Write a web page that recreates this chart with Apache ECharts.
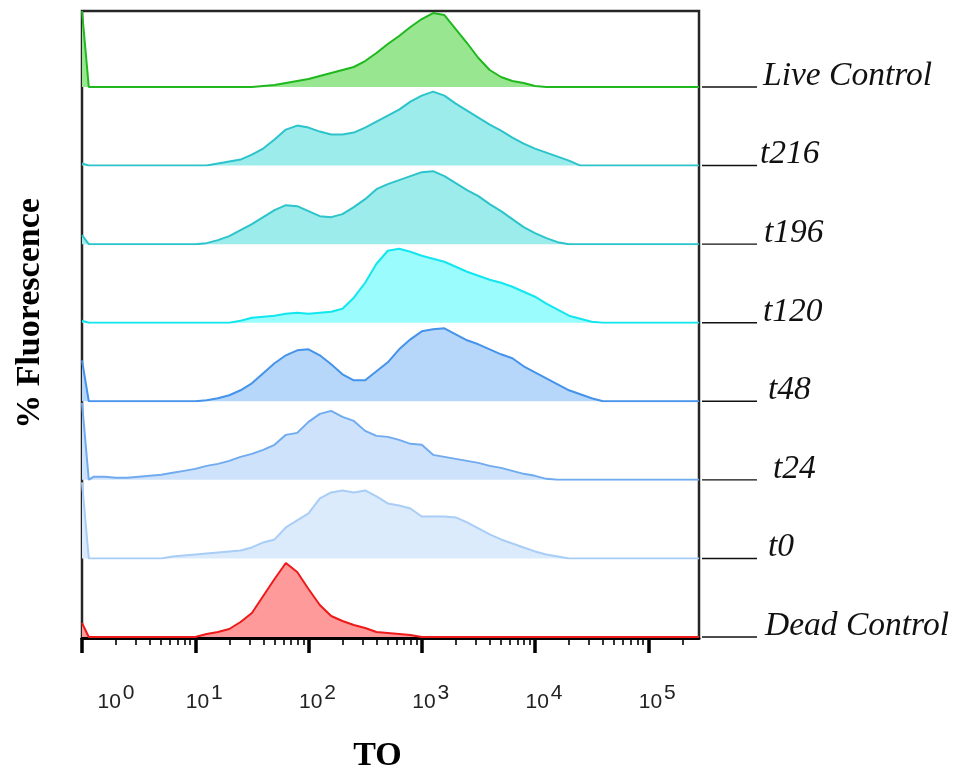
<!DOCTYPE html>
<html><head><meta charset="utf-8">
<script src="https://cdn.jsdelivr.net/npm/echarts@6/dist/echarts.min.js"></script>
<style>html,body{margin:0;padding:0;background:#fff}#c{width:959px;height:769px}</style>
</head><body><div id="c"></div>
<script>
// log10(TO intensity) of each histogram bin
const logChannel = [0, 0.06, 0.1, 0.2, 0.3, 0.4, 0.5, 0.6, 0.7, 0.8, 0.9, 1.0, 1.1, 1.2, 1.3, 1.4, 1.5, 1.6, 1.7, 1.8, 1.9, 2.0, 2.1, 2.2, 2.3, 2.4, 2.5, 2.6, 2.7, 2.8, 2.9, 3.0, 3.1, 3.2, 3.3, 3.4, 3.5, 3.6, 3.7, 3.8, 3.9, 4.0, 4.1, 4.2, 4.3, 4.4, 4.5, 4.6, 4.7, 4.8, 4.9, 5.0, 5.1, 5.2, 5.3, 5.4, 5.448];

const sampleNames = ['Live Control', 't216', 't196', 't120', 't48', 't24', 't0', 'Dead Control'];

const liveControl = [76, 0, 0,0,0,0,0,0,0,0,0,0,0,0,0,0,0, 1,2,4,6,8,11,14,17,20,26,34,43,51,60,68,74,72,58,44,29,17,10,6,4,1, 0,0,0,0,0,0,0,0,0,0,0,0,0,0,0];
const t216 = [2, 0, 0,0,0,0,0,0,0,0,0,0,0, 2,4,6,11,17,26,36,40,38,34,31,31,33,38,44,50,56,64,70,74,70,62,55,48,41,35,28,22,17,13,9,5,0, 0,0,0,0,0,0,0,0,0,0,0];
const t196 = [9, 0, 0,0,0,0,0,0,0,0,0,0, 1,4,8,14,20,27,34,39,38,33,28,27,30,37,45,55,60,64,68,72,73,68,61,54,48,40,33,25,17,11,6,2,0, 0,0,0,0,0,0,0,0,0,0,0,0];
const t120 = [2, 0, 0,0,0,0,0,0,0,0,0,0,0,0,0, 2,5,6,7,9,10,9,10,11,14,25,40,59,72,74,71,67,64,61,56,51,47,43,40,36,31,26,19,13,7,4,1,0, 0,0,0,0,0,0,0,0,0];
const t48 = [41, 0, 0,0,0,0,0,0,0,0,0,0, 1,3,6,11,18,28,38,46,51,52,46,37,27,21,21,30,39,52,62,70,72,73,67,61,57,52,47,43,35,29,23,17,11,7,3,0, 0,0,0,0,0,0,0,0,0];
const t24 = [77, 0, 3,3,2,2,3,4,5,7,9,11,14,16,19,23,26,30,35,45,47,58,66,69,63,59,49,44,43,40,36,35,25,23,21,19,17,14,12,9,6,4,1,0, 0,0,0,0,0,0,0,0,0,0,0,0,0];
const t0 = [76, 0, 0,0,0,0,0,0,0, 2,3,4,5,6,7,8,11,16,19,31,38,45,60,66,68,66,68,62,55,53,50,42,42,42,41,36,30,24,19,15,11,7,4,2,0, 0,0,0,0,0,0,0,0,0,0,0,0];
const deadControl = [14, 0, 0,0,0,0,0,0,0,0,0,0, 3,5,8,15,24,41,58,74,65,48,32,21,16,12,9,5,4,3,2,0, 0,0,0,0,0,0,0,0,0,0,0,0,0,0,0,0,0,0,0,0,0,0,0,0,0];

const seriesValues = [liveControl, t216, t196, t120, t48, t24, t0, deadControl];

const decadeTicks = [0, 1, 2, 3, 4, 5];
const decadeExponents = ['0', '1', '2', '3', '4', '5'];
const axisMaxLog = 5.448;
const rowCountMax = 78.6;

// styles
const lineColors = ['#1fb81f', '#2cc4ca', '#2cc4ca', '#12e6ee', '#4593ea', '#70abef', '#a8cdf6', '#ee1a1a'];
const fillColors = ['#98e690', '#9decec', '#9decec', '#9afcfc', '#b6d7fa', '#cee3fb', '#dcebfc', '#fe9a9a'];
const labelGap = [6, 3, 7, 6, 11, 16, 11, 8];

const frame = {left: 82, top: 11, right: 699, bottom: 638};
const firstBase = 87, lastBase = 637;
const rowStep = (lastBase - firstBase) / 7;

const minorTicks = [];
for (let d = 0; d < 6; d++) for (let k = 2; k <= 9; k++) {
  const v = d + Math.log10(k);
  if (v < axisMaxLog) minorTicks.push(v);
}

const grids = [], xAxes = [], yAxes = [], series = [];
sampleNames.forEach((name, i) => {
  const base = firstBase + i * rowStep;
  grids.push({left: frame.left, width: frame.right - frame.left, top: base - rowStep, height: rowStep,
    containLabel: false, outerBoundsMode: 'none'});
  xAxes.push({type: 'value', gridIndex: i, min: 0, max: axisMaxLog, show: false});
  const yIndex = yAxes.length;
  // axis carrying the sample name
  yAxes.push({
    type: 'value', gridIndex: i, min: 0, max: rowCountMax, position: 'right',
    axisLine: {show: false}, splitLine: {show: false}, axisTick: {show: false},
    axisLabel: {
      show: true, customValues: [0], margin: 58 + labelGap[i], verticalAlign: 'bottom', align: 'left',
      lineHeight: 22, formatter: () => name,
      fontFamily: 'Liberation Serif', fontStyle: 'italic', fontSize: 33.5, color: '#111'
    }
  });
  // axis carrying the leader line
  yAxes.push({
    type: 'value', gridIndex: i, min: 0, max: rowCountMax, position: 'right',
    axisLine: {show: false}, splitLine: {show: false}, axisTick: {show: false},
    axisLabel: {
      show: true, customValues: [0], margin: 3, verticalAlign: 'middle', align: 'left',
      formatter: () => '{ln| }',
      rich: {ln: {width: 55, height: 1.4, lineHeight: 1.4, fontSize: 1, backgroundColor: '#111'}}
    }
  });
  series.push({
    type: 'line', xAxisIndex: i, yAxisIndex: yIndex, name,
    data: logChannel.map((x, j) => [x, seriesValues[i][j]]),
    symbol: 'none', silent: true,
    lineStyle: {color: lineColors[i], width: 2},
    areaStyle: {color: fillColors[i], opacity: 1}
  });
});

// frame grid with the bottom axis
grids.push({left: frame.left, top: frame.top, width: frame.right - frame.left, height: frame.bottom - frame.top,
  containLabel: false, outerBoundsMode: 'none',
  show: true, borderColor: '#262626', borderWidth: 2.5, backgroundColor: 'rgba(0,0,0,0)'});
const fg = grids.length - 1;
xAxes.push({
  type: 'value', gridIndex: fg, min: 0, max: axisMaxLog, position: 'bottom',
  axisLine: {show: true, lineStyle: {color: '#000', width: 3}},
  splitLine: {show: false},
  axisTick: {show: true, customValues: decadeTicks, length: 15, lineStyle: {color: '#000', width: 3.5}},
  axisLabel: {
    show: true, customValues: decadeTicks, margin: 54,
    formatter: (v) => {
      const k = decadeTicks.indexOf(Math.round(v));
      return (k === 0 ? '{sp0| }' : '{sp| }') + '{b|10}{e|' + decadeExponents[k] + '}';
    },
    rich: {
      sp: {width: 18},
      sp0: {width: 68},
      b: {fontSize: 21, lineHeight: 21, fontFamily: 'Liberation Sans', color: '#222', verticalAlign: 'bottom'},
      e: {fontSize: 21, lineHeight: 21, fontFamily: 'Liberation Sans', color: '#222', padding: [0, 0, 19, 2]}
    }
  },
  name: 'TO', nameLocation: 'middle', nameGap: 101,
  nameTextStyle: {fontFamily: 'Liberation Serif', fontWeight: 'bold', fontSize: 34, color: '#000', padding: [0, 26, 0, 0]}
});
xAxes.push({
  type: 'value', gridIndex: fg, min: 0, max: axisMaxLog, position: 'bottom',
  axisLine: {show: false}, splitLine: {show: false}, axisLabel: {show: false},
  axisTick: {show: true, customValues: minorTicks, length: 7, lineStyle: {color: '#000', width: 1.6}}
});
yAxes.push({
  type: 'value', gridIndex: fg, min: 0, max: 1, position: 'left',
  axisLine: {show: false}, axisTick: {show: false}, axisLabel: {show: false}, splitLine: {show: false},
  name: '% Fluorescence', nameLocation: 'middle', nameGap: 35, nameRotate: 90,
  nameTextStyle: {fontFamily: 'Liberation Serif', fontWeight: 'bold', fontSize: 34, color: '#000', padding: [0, 0, 0, 22]}
});

const chart = echarts.init(document.getElementById('c'), null, {renderer: 'canvas'});
chart.setOption({animation: false, grid: grids, xAxis: xAxes, yAxis: yAxes, series});
</script></body></html>
